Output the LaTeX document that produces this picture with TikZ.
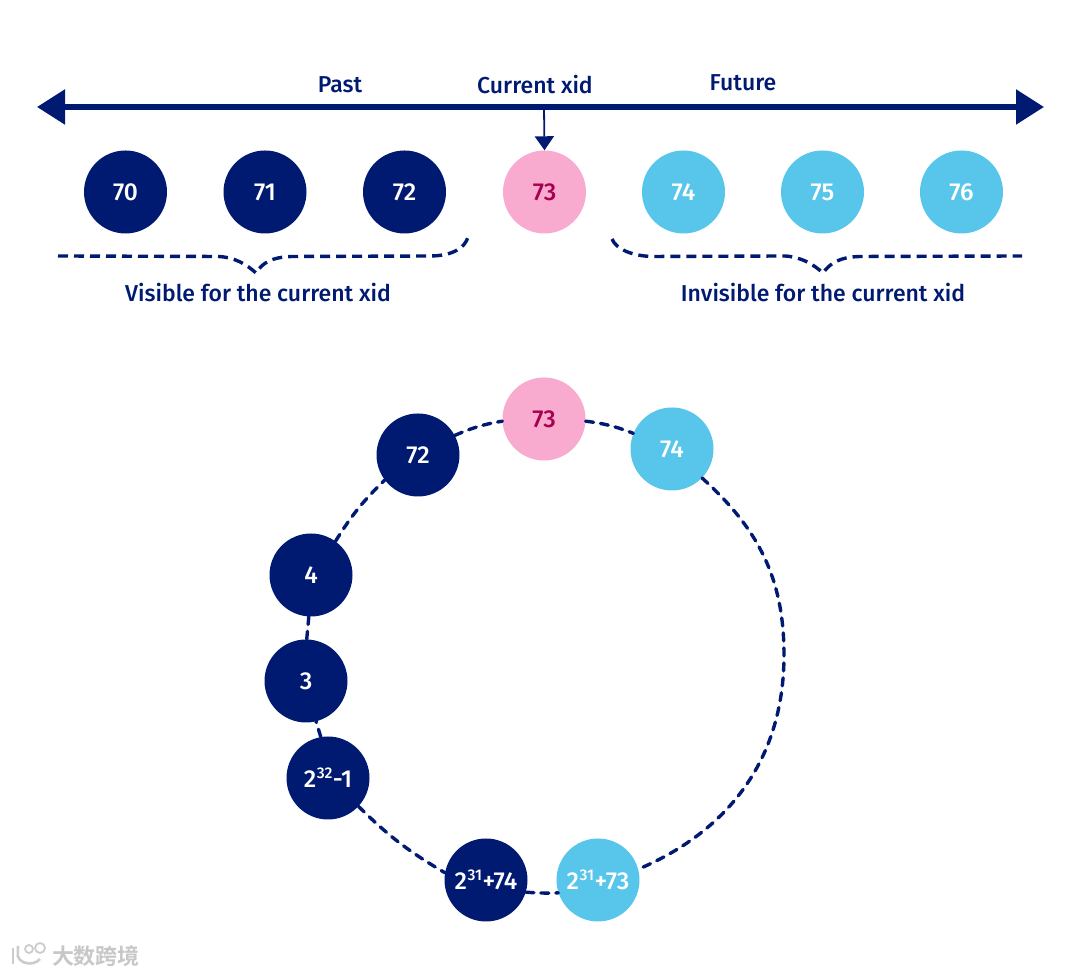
\documentclass[tikz,border=0pt]{standalone}
\usepackage{fontspec}
\setmainfont{Fira Sans Medium}
\newfontfamily\cjkmark{Noto Sans CJK SC Bold}
\usetikzlibrary{arrows.meta,backgrounds}
\definecolor{navy}{HTML}{001A72}
\definecolor{pinkfill}{HTML}{F8AACF}
\definecolor{pinktext}{HTML}{A6004F}
\definecolor{skyfill}{HTML}{58C5EB}
\newcommand{\sq}[1]{\kern0.5pt\raisebox{0.36em}{\fontsize{15.5}{15.5}\selectfont #1}\kern0.5pt}
\tikzset{
  ball/.style={circle,minimum size=83pt,inner sep=0pt,text=white,font=\fontsize{24.5}{24.5}\selectfont},
  past/.style={ball,fill=navy},
  now/.style={ball,fill=pinkfill,text=pinktext},
  later/.style={ball,fill=skyfill},
  caption/.style={text=navy,inner sep=0pt,font=\fontsize{23}{23}\selectfont},
  axis/.style={navy,line width=5.5pt,{Triangle[length=28pt,width=34pt]}-{Triangle[length=28pt,width=34pt]}},
  pointer/.style={navy,line width=1.8pt,-{Triangle[length=14pt,width=19pt]}},
  ring/.style={navy,line width=3.4pt,dash pattern=on 8pt off 7pt,line cap=round},
  bracedash/.style={navy,line width=3.4pt,dash pattern=on 10pt off 6pt},
}
\begin{document}
\begin{tikzpicture}[x=1pt,y=1pt]
\useasboundingbox (0,0) rectangle (1080,976);
% top row
\node[past] (a70) at (125.5,784) {70};
\node[past] (a71) at (265,784) {71};
\node[past] (a72) at (404.5,784) {72};
\node[now] (a73) at (544.5,784) {73};
\node[later] (a74) at (683.5,784) {74};
\node[later] (a75) at (822.5,784) {75};
\node[later] (a76) at (961.5,784) {76};
\coordinate (axisL) at (37,869);
\coordinate (axisR) at (1044,869);
\coordinate (axisM) at (544,869);
\draw[axis] (axisL) -- (axisR);
\draw[pointer] (axisM) -- (a73.north);
\node[caption] (past) at (340,891) {Past};
\node[caption] (cur) at (535,891) {Current xid};
\node[caption] (fut) at (743,893) {Future};
\node[caption] (vis) at (258,683) {Visible for the current xid};
\node[caption] (inv) at (823,683) {Invisible for the current xid};
% braces
\coordinate (bL0) at (58,720);
\coordinate (bLt) at (256,703);
\coordinate (bL1) at (468,739);
\coordinate (bR0) at (612,737);
\coordinate (bRt) at (823,703);
\coordinate (bR1) at (1022,720);
\draw[bracedash] (bL0) -- (218,719.5) .. controls (234,719) and (246,712) .. (bLt)
  .. controls (262,713) and (272,719) .. (292,719.5) -- (430,720) .. controls (452,720) and (465,728) .. (bL1);
\draw[bracedash] (bR0) .. controls (616,727) and (632,720) .. (652,719.5) -- (785,720)
  .. controls (801,719) and (813,712) .. (bRt)
  .. controls (830,713) and (840,719) .. (860,719.5) -- (bR1);
% ring
\node[now] (r73) at (544,557) {73};
\node[later] (r74) at (672,527) {74};
\node[past] (r72) at (418,521) {72};
\node[past] (r4) at (311,401) {4};
\node[past] (r3) at (306,295) {3};
\node[past] (rm) at (328,198) {2\sq{32}-1};
\node[past] (rp) at (486,96) {2\sq{31}+74};
\node[later] (rq) at (598,96) {2\sq{31}+73};
\coordinate (rE) at (784,321);
\draw[ring] (r72.28) to[bend left=7] (r73.183);
\draw[ring] (r73.-3) to[bend left=7] (r74.158);
\draw[ring] (r4.54) to[bend left=7] (r72.217);
\draw[ring] (r3.89) to (r4.267);
\draw[ring] (rm.100) to (r3.-76);
\draw[ring] (rm.-43) to[bend right=7] (rp.170);
\draw[ring] (rp.-17.6) to[bend right=3] (rq.198);
\draw[ring] (r74.-44) to[out=-42,in=90] (rE) to[out=-90,in=23] (rq.15);
% watermark
\node[inner sep=0pt,text=black!22,font=\cjkmark\fontsize{22}{22}\selectfont] (mark) at (96,20) {大数跨境};
\draw[black!20,line width=2.6pt] (40,17) arc (-30:-170:12 and 9) -- (18,30);
\draw[black!20,line width=2.2pt] (13,12) -- (13,28);
\draw[black!20,line width=1.8pt] (29,27) circle (4);
\draw[black!20,line width=1.8pt] (40,28) circle (5);
\end{tikzpicture}
\end{document}
